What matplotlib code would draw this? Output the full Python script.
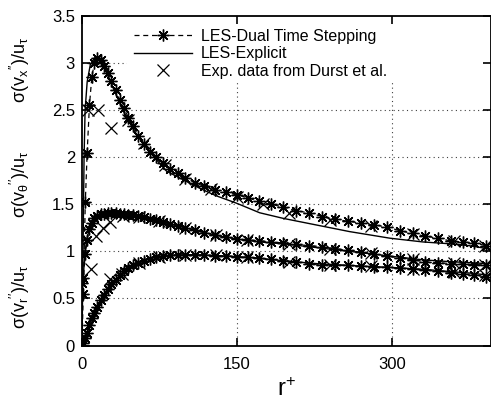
import matplotlib
matplotlib.use("Agg")
import matplotlib.pyplot as plt
from matplotlib.lines import Line2D
from matplotlib.patches import Rectangle

plt.rcParams['font.family'] = ['Liberation Sans', 'DejaVu Sans']
plt.rcParams['mathtext.fontset'] = 'custom'
plt.rcParams['mathtext.rm'] = 'Liberation Sans'
plt.rcParams['mathtext.it'] = 'Liberation Sans'
plt.rcParams['mathtext.bf'] = 'Liberation Sans:bold'

# LES-Dual Time Stepping (grid points of the simulation)
r_dual = [0, 1.2, 3.2, 5, 7.2, 9.5, 12, 15, 18, 21.5, 25, 28.5, 32.5, 36.5, 40.5,
          45, 49.5, 54.5, 60, 66, 72, 78.5, 85.5, 92.5, 100, 109, 118.5, 128.5,
          139, 150, 160.5, 171, 183, 195, 207.5, 220, 232.5, 245, 257.5, 270,
          282.5, 295, 307.5, 320, 332.5, 345, 357, 368.5, 380, 391]
vx_dual = [0, 0.55, 1.52, 2.05, 2.55, 2.85, 3.0, 3.05, 3.03, 2.97, 2.89, 2.81,
           2.71, 2.61, 2.52, 2.42, 2.33, 2.23, 2.14, 2.06, 2.0, 1.94, 1.88, 1.83,
           1.78, 1.73, 1.69, 1.65, 1.63, 1.60, 1.57, 1.53, 1.50, 1.47, 1.43, 1.41,
           1.37, 1.34, 1.32, 1.30, 1.28, 1.26, 1.22, 1.19, 1.16, 1.14, 1.11, 1.10,
           1.09, 1.06]
vt_dual = [0.66, 0.72, 0.97, 1.12, 1.24, 1.30, 1.35, 1.38, 1.395, 1.40, 1.405,
           1.405, 1.405, 1.40, 1.40, 1.39, 1.385, 1.375, 1.36, 1.345, 1.33, 1.31,
           1.29, 1.27, 1.25, 1.225, 1.20, 1.175, 1.155, 1.135, 1.12, 1.115, 1.10,
           1.09, 1.075, 1.06, 1.05, 1.03, 1.01, 0.99, 0.97, 0.95, 0.93, 0.91, 0.89,
           0.88, 0.87, 0.865, 0.86, 0.855]
vr_dual = [0, 0.03, 0.08, 0.13, 0.22, 0.29, 0.35, 0.41, 0.48, 0.54, 0.60, 0.65,
           0.70, 0.75, 0.79, 0.82, 0.85, 0.88, 0.90, 0.92, 0.94, 0.95, 0.96, 0.963,
           0.965, 0.965, 0.962, 0.955, 0.95, 0.945, 0.935, 0.93, 0.915, 0.90, 0.885,
           0.87, 0.86, 0.855, 0.85, 0.84, 0.835, 0.83, 0.82, 0.81, 0.80, 0.79,
           0.775, 0.76, 0.745, 0.73]

# LES-Explicit
r_expl = [0, 1, 2, 3, 5, 8, 12, 16, 20, 25, 30, 40, 50, 60, 70, 82, 100, 114,
          130, 150, 172, 195, 227, 259, 298, 330, 357, 375, 392]
vx_expl = [0, 1.0, 2.0, 2.5, 2.8, 2.98, 3.05, 3.04, 2.98, 2.87, 2.74, 2.49, 2.29,
           2.13, 2.0, 1.85, 1.75, 1.67, 1.59, 1.51, 1.41, 1.35, 1.28, 1.21, 1.14,
           1.10, 1.08, 1.06, 1.03]
vt_expl = [0.62, 0.70, 0.85, 1.0, 1.15, 1.27, 1.34, 1.38, 1.395, 1.40, 1.40, 1.39,
           1.38, 1.355, 1.33, 1.30, 1.25, 1.21, 1.17, 1.13, 1.10, 1.08, 1.04, 1.0,
           0.95, 0.91, 0.89, 0.88, 0.87]
vr_expl = [0, 0.02, 0.05, 0.08, 0.13, 0.23, 0.35, 0.43, 0.51, 0.60, 0.67, 0.78,
           0.85, 0.90, 0.935, 0.955, 0.965, 0.963, 0.955, 0.945, 0.925, 0.90, 0.87,
           0.85, 0.83, 0.81, 0.785, 0.77, 0.75]

# Exp. data from Durst et al.
r_ex_x = [5.5, 15.5, 28, 45, 60, 80, 100, 125, 150, 175, 200, 240, 280, 320, 360, 390]
vx_exp = [2.5, 2.5, 2.31, 2.40, 2.15, 1.92, 1.77, 1.66, 1.58, 1.50, 1.41, 1.33,
          1.27, 1.18, 1.11, 1.06]
r_ex_t = [9, 13.5, 20, 27, 40, 55, 75, 100, 130, 160, 200, 240, 280, 320, 360, 390]
vt_exp = [0.81, 1.16, 1.25, 1.31, 1.38, 1.37, 1.32, 1.25, 1.17, 1.12, 1.08, 1.03,
          0.98, 0.92, 0.88, 0.86]
r_ex_r = [27, 39, 55, 75, 100, 130, 160, 200, 240, 280, 320, 360, 390]
vr_exp = [0.71, 0.76, 0.88, 0.945, 0.965, 0.96, 0.94, 0.89, 0.86, 0.84, 0.81,
          0.78, 0.75]

xticks = [0, 150, 300]
yticks = [0, 0.5, 1, 1.5, 2, 2.5, 3, 3.5]
ytick_labels = ['0', '0.5', '1', '1.5', '2', '2.5', '3', '3.5']

fig = plt.figure(figsize=(4.91, 4.03), dpi=100)
ax = fig.add_axes([82 / 491, 57.5 / 403, 409 / 491, 329.5 / 403])
ax.set_xlim(0, 396)
ax.set_ylim(0, 3.5)

# dotted grid, drawn by hand so the key box can hide part of it
for yv in yticks[1:-1]:
    ax.axhline(yv, color='0.25', lw=0.8, ls=(0, (1, 3)), zorder=0.6)
for xv in xticks[1:]:
    ax.axvline(xv, color='0.25', lw=0.8, ls=(0, (1, 3)), zorder=0.6)
ax.add_patch(Rectangle((0.11, 0.805), 0.9, 0.2, transform=ax.transAxes,
                       facecolor='white', edgecolor='none', zorder=0.7))

star = (8, 2, 0)
for vals in (vx_dual, vt_dual, vr_dual):
    ax.plot(r_dual, vals, color='black', lw=0.9, ls=(0, (4, 3)),
            marker=star, ms=8.5, mew=1.0, zorder=2)
for vals in (vx_expl, vt_expl, vr_expl):
    ax.plot(r_expl, vals, color='black', lw=1.0, zorder=2)
for rr, vals in ((r_ex_x, vx_exp), (r_ex_t, vt_exp), (r_ex_r, vr_exp)):
    ax.plot(rr, vals, ls='none', color='black', marker='x', ms=8.5, mew=0.9, zorder=2)

ax.set_xticks(xticks)
ax.set_yticks(yticks)
ax.set_yticklabels(ytick_labels)
ax.tick_params(direction='in', length=6, width=1.2, labelsize=12,
               top=True, right=True, pad=5)
ax.tick_params(axis='x', pad=8)
for s in ax.spines.values():
    s.set_linewidth(1.3)

ax.set_xlabel('r$^{+}$', fontsize=17, labelpad=5)

fig.text(0.04, 1 - 70 / 403, r"$\sigma(v_x{}^{\prime\prime})/u_\tau$", rotation=90,
         ha='center', va='center', fontsize=13)
fig.text(0.04, 1 - 185 / 403, r"$\sigma(v_\theta{}^{\prime\prime})/u_\tau$", rotation=90,
         ha='center', va='center', fontsize=13)
fig.text(0.04, 1 - 297 / 403, r"$\sigma(v_r{}^{\prime\prime})/u_\tau$", rotation=90,
         ha='center', va='center', fontsize=13)

handles = [
    Line2D([], [], color='black', lw=0.9, ls=(0, (4, 3)), marker=star, ms=8.5, mew=1.0),
    Line2D([], [], color='black', lw=1.0),
    Line2D([], [], ls='none', color='black', marker='x', ms=8.5, mew=0.9),
]
labels = ['LES-Dual Time Stepping', 'LES-Explicit', 'Exp. data from Durst et al.']
ax.legend(handles, labels, loc='upper left', bbox_to_anchor=(0.1, 0.995),
          frameon=False, fontsize=11.5, handlelength=3.6, handletextpad=0.6,
          labelspacing=0.15, borderpad=0.2)

fig.savefig('out.png', dpi=100)
